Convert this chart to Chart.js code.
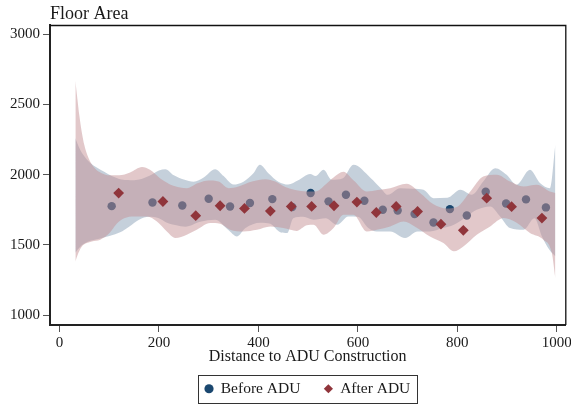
<!DOCTYPE html>
<html>
<head>
<meta charset="utf-8">
<script src="https://cdn.jsdelivr.net/npm/chart.js@4.4.1/dist/chart.umd.min.js"></script>
<style>
html,body{margin:0;padding:0;background:#fff;}
#wrap{width:571px;height:404px;}
</style>
</head>
<body>
<div id="wrap"><canvas id="c" width="571" height="404"></canvas></div>
<script>
// ---- data ----
const xTicks = [0, 200, 400, 600, 800, 1000];
const yTicks = [1000, 1500, 2000, 2500, 3000];

const beforeX = [105, 187, 247, 300, 343, 383, 428, 468, 505, 541, 576, 613, 650, 680, 714, 752, 785, 819, 857, 898, 938, 978];
const beforeY = [1776, 1802, 1781, 1829, 1774, 1798, 1826, 1770, 1869, 1810, 1857, 1814, 1750, 1745, 1720, 1660, 1755, 1710, 1878, 1795, 1824, 1767];

const afterX = [119, 208, 274, 323, 372, 424, 466, 507, 552, 598, 637, 677, 720, 767, 812, 859, 909, 970];
const afterY = [1869, 1809, 1708, 1779, 1760, 1741, 1774, 1774, 1779, 1805, 1731, 1774, 1738, 1648, 1604, 1833, 1772, 1691];

// confidence band, before ADU
const beforeHiX = [32, 40, 50, 62, 75, 90, 105, 125, 150, 180, 200, 213, 230, 250, 270, 290, 313, 330, 350, 370, 390, 403, 420, 440, 460, 480, 504, 515, 531, 547, 570, 591, 626, 646, 660, 685, 710, 732, 752, 780, 806, 829, 852, 876, 899, 919, 946, 966, 986, 997];
const beforeHiY = [2259, 2190, 2130, 2082, 2050, 2020, 1990, 1965, 1960, 1990, 2030, 2039, 1995, 1965, 1950, 1980, 2039, 1990, 1930, 1950, 2010, 2070, 2010, 1950, 1930, 1960, 2005, 1990, 2034, 1964, 1975, 2070, 1975, 1904, 1857, 1904, 1900, 1892, 1833, 1835, 1892, 1857, 1951, 2046, 1999, 1928, 2034, 1940, 1904, 2212];
const beforeLoX = [32, 40, 50, 62, 80, 102, 122, 140, 160, 180, 200, 215, 235, 253, 283, 313, 339, 357, 374, 404, 424, 444, 458, 470, 490, 511, 535, 558, 581, 600, 621, 638, 665, 695, 720, 745, 770, 793, 819, 839, 866, 886, 906, 933, 955, 970, 985, 997];
const beforeLoY = [1445, 1480, 1510, 1530, 1545, 1566, 1590, 1630, 1680, 1700, 1690, 1660, 1640, 1630, 1665, 1679, 1608, 1561, 1620, 1658, 1650, 1590, 1585, 1690, 1700, 1679, 1690, 1644, 1703, 1700, 1620, 1596, 1596, 1550, 1596, 1596, 1620, 1644, 1703, 1750, 1774, 1703, 1620, 1608, 1690, 1561, 1466, 1420];

// confidence band, after ADU
const afterHiX = [32, 36, 40, 45, 50, 56, 64, 74, 85, 100, 120, 142, 166, 182, 202, 229, 256, 279, 300, 320, 340, 360, 387, 414, 434, 454, 474, 497, 515, 535, 551, 571, 591, 618, 640, 665, 698, 725, 752, 779, 799, 826, 852, 879, 906, 933, 960, 986, 997];
const afterHiY = [2665, 2540, 2420, 2300, 2210, 2140, 2080, 2035, 2010, 1995, 1995, 2015, 2054, 2034, 1975, 1921, 1904, 1940, 1958, 1951, 1904, 1916, 1951, 1968, 1951, 1912, 1890, 1880, 1880, 1930, 1980, 2020, 1960, 1880, 1890, 1904, 1935, 1870, 1790, 1760, 1770, 1880, 1987, 1999, 1951, 1916, 1928, 1880, 1869];
const afterLoX = [32, 38, 45, 55, 65, 82, 102, 115, 130, 150, 176, 196, 216, 233, 256, 276, 303, 323, 343, 370, 397, 424, 450, 464, 477, 497, 511, 531, 551, 571, 591, 618, 640, 665, 692, 715, 745, 772, 793, 812, 839, 866, 893, 920, 946, 973, 990, 997];
const afterLoY = [1383, 1443, 1490, 1514, 1525, 1537, 1590, 1650, 1690, 1703, 1703, 1667, 1596, 1550, 1573, 1608, 1656, 1650, 1608, 1596, 1608, 1632, 1620, 1608, 1600, 1640, 1644, 1573, 1620, 1715, 1715, 1596, 1610, 1632, 1667, 1630, 1561, 1514, 1455, 1490, 1573, 1632, 1691, 1656, 1585, 1537, 1443, 1266];

// ---- helpers / styles ----
const pts = (xs, ys) => xs.map((x, i) => ({ x: x, y: ys[i] }));
const FONT = "'Liberation Serif', 'Times New Roman', serif";
const TXT = '#1a1a1a';
const NAVY = '#1a476f';
const MAROON = '#90353b';

Chart.defaults.font.family = FONT;
Chart.defaults.color = TXT;

const bandLine = (data, fill, bg, order) => ({
  type: 'line', data: data, fill: fill, backgroundColor: bg,
  borderColor: 'rgba(0,0,0,0)', borderWidth: 0, pointRadius: 0, pointHitRadius: 0,
  cubicInterpolationMode: 'monotone', order: order, label: ''
});

const frame = {
  id: 'frame',
  afterDraw(chart) {
    const { ctx, chartArea: a } = chart;
    ctx.save();
    ctx.strokeStyle = '#111';
    ctx.lineWidth = 1.3;
    ctx.beginPath();
    ctx.moveTo(a.left, a.top + 0.5);
    ctx.lineTo(a.right + 0.5, a.top + 0.5);
    ctx.lineTo(a.right + 0.5, a.bottom);
    ctx.stroke();
    // legend border
    const lg = chart.legend;
    if (lg && lg.legendHitBoxes && lg.legendHitBoxes.length) {
      const hb = lg.legendHitBoxes;
      const l = Math.min(...hb.map(h => h.left)) - 7;
      const r = Math.max(...hb.map(h => h.left + h.width)) + 7;
      const t = Math.min(...hb.map(h => h.top)) - 6;
      const b = Math.max(...hb.map(h => h.top + h.height)) + 6;
      ctx.strokeStyle = '#333';
      ctx.lineWidth = 1;
      ctx.strokeRect(Math.round(l) + 0.5, Math.round(t) + 0.5, Math.round(r - l), Math.round(b - t));
    }
    ctx.restore();
  }
};

const plain = (v) => String(v);

new Chart(document.getElementById('c'), {
  type: 'scatter',
  data: {
    datasets: [
      bandLine(pts(beforeHiX, beforeHiY), '+1', 'rgba(139,161,183,0.5)', 6),
      bandLine(pts(beforeLoX, beforeLoY), false, 'rgba(0,0,0,0)', 6),
      bandLine(pts(afterHiX, afterHiY), '+1', 'rgba(197,145,149,0.5)', 3),
      bandLine(pts(afterLoX, afterLoY), false, 'rgba(0,0,0,0)', 3),
      { label: 'Before ADU', data: pts(beforeX, beforeY), pointStyle: 'circle', pointRadius: 4.2,
        backgroundColor: NAVY, borderWidth: 0, order: 4 },
      { label: 'After ADU', data: pts(afterX, afterY), pointStyle: 'rectRot', pointRadius: 5.4,
        backgroundColor: MAROON, borderWidth: 0, order: 1 }
    ]
  },
  options: {
    responsive: false,
    animation: false,
    devicePixelRatio: 1,
    layout: { padding: { left: 0, right: 5.7, top: 0, bottom: 0 } },
    plugins: {
      title: { display: true, text: 'Floor Area', align: 'start', fullSize: false,
        font: { size: 18, weight: 'normal' }, color: TXT, padding: { top: 3, bottom: 0.4 } },
      legend: { position: 'bottom', fullSize: false, maxHeight: 47,
        labels: { usePointStyle: true, boxWidth: 8, boxHeight: 6.5, padding: 24,
          font: { size: 15.5 }, color: TXT,
          filter: (it) => it.datasetIndex >= 4,
          sort: (a, b) => a.datasetIndex - b.datasetIndex } },
      tooltip: { enabled: false }
    },
    scales: {
      x: {
        type: 'linear', min: -19, max: 1017,
        afterBuildTicks: (s) => { s.ticks = xTicks.map(v => ({ value: v })); },
        afterFit: (s) => { s.height = 32; s.paddingLeft = 0; s.paddingRight = 0; },
        grid: { drawOnChartArea: false, drawTicks: true, tickLength: 7, color: '#555', lineWidth: 1 },
        border: { display: true, color: '#222', width: 2 },
        ticks: { font: { size: 15 }, color: TXT, padding: 2, maxRotation: 0, autoSkip: false, callback: plain },
        title: { display: true, text: 'Distance to ADU Construction', font: { size: 16 }, color: TXT,
          padding: { top: 0, bottom: -9 } }
      },
      y: {
        type: 'linear', min: 931, max: 3064,
        afterBuildTicks: (s) => { s.ticks = yTicks.map(v => ({ value: v })); },
        afterFit: (s) => { s.width = 50; s.paddingTop = 0; s.paddingBottom = 0; },
        grid: { drawOnChartArea: false, drawTicks: true, tickLength: 7, color: '#555', lineWidth: 1 },
        border: { display: true, color: '#222', width: 2 },
        ticks: { font: { size: 15 }, color: TXT, padding: 3, autoSkip: false, callback: plain }
      }
    }
  },
  plugins: [frame]
});
</script>
</body>
</html>
